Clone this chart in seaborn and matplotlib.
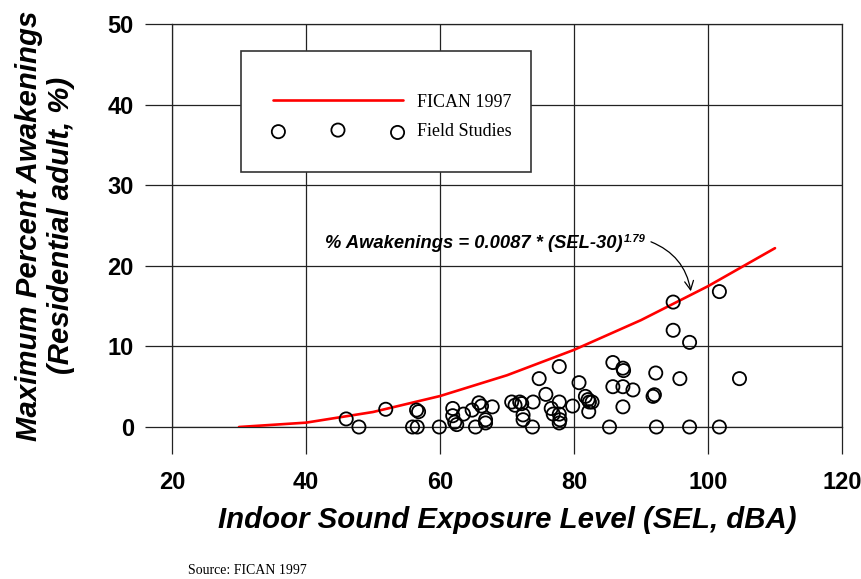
import pandas as pd
import numpy as np
import matplotlib
matplotlib.use('agg')
import matplotlib.pyplot as plt
import seaborn as sns
from matplotlib.patches import Rectangle
from matplotlib.transforms import IdentityTransform

# FICAN 1997 curve, every 10 dB
sel_curve = [30, 40, 50, 60, 70, 80, 90, 100, 110]
awk_curve = [0.0, 0.54, 1.86, 3.84, 6.42, 9.57, 13.26, 17.47, 22.19]

# field study points (SEL dBA, % awakenings)
field_sel = [46.0, 47.9, 51.9, 56.5, 56.8, 55.9, 56.6, 59.9, 61.9, 61.9,
             62.2, 62.5, 63.5, 64.8, 65.8, 66.2, 67.8, 65.3, 66.8, 66.8,
             70.7, 71.2, 71.9, 72.2, 72.4, 72.4, 73.8, 73.9, 74.8, 75.8,
             76.6, 76.9, 77.8, 77.9, 77.8, 77.8, 77.8, 79.8, 80.75, 81.7,
             82.1, 82.3, 82.7, 82.2, 85.3, 85.8, 85.8, 87.3, 87.4, 87.3,
             87.3, 88.8, 91.8, 92.0, 92.2, 92.3, 94.8, 94.8, 95.8, 97.25,
             97.25, 101.7, 101.7, 104.7]
field_awk = [1.0, 0.0, 2.2, 2.1, 1.9, 0.0, 0.0, 0.0, 2.3, 1.4,
             0.6, 0.3, 1.6, 2.1, 3.0, 2.6, 2.5, 0.0, 0.9, 0.5,
             3.1, 2.7, 3.1, 2.9, 1.5, 0.9, 0.0, 3.1, 6.0, 4.05,
             2.3, 1.6, 1.6, 0.9, 0.5, 3.1, 7.5, 2.6, 5.5, 3.8,
             3.4, 3.1, 3.1, 1.9, 0.0, 8.0, 5.0, 7.3, 7.0, 5.0,
             2.5, 4.6, 3.8, 4.0, 6.7, 0.0, 15.5, 12.0, 6.0, 10.5,
             0.0, 16.8, 0.0, 6.0]

xticks = [20, 40, 60, 80, 100, 120]
yticks = [0, 10, 20, 30, 40, 50]

curve_df = pd.DataFrame({'SEL': sel_curve, 'Awakenings': awk_curve})
field_df = pd.DataFrame({'SEL': field_sel, 'Awakenings': field_awk})

sns.set_style('white')
plt.rcParams['font.family'] = ['Liberation Sans', 'DejaVu Sans']
plt.rcParams['text.color'] = 'black'
plt.rcParams['axes.labelcolor'] = 'black'
plt.rcParams['xtick.color'] = 'black'
plt.rcParams['ytick.color'] = 'black'

fig = plt.figure(figsize=(8.61, 5.79), dpi=100)
ax = fig.add_axes([172/861, 152/579, 670/861, 403/579])

sns.lineplot(data=curve_df, x='SEL', y='Awakenings', color='#ff0000', linewidth=1.9,
             label='FICAN 1997', ax=ax, zorder=4)
sns.scatterplot(data=field_df, x='SEL', y='Awakenings', marker='o', s=90,
                facecolors='none', edgecolor='black', linewidth=1.3,
                label='Field Studies', ax=ax, clip_on=False, zorder=5)

ax.set_xlim(20, 120)
ax.set_ylim(0, 50)
ax.set_xticks(xticks)
ax.set_yticks(yticks)
ax.grid(True, color='#222222', linewidth=0.9)
for s in ax.spines.values():
    s.set_visible(True)
    s.set_color('#222222')
    s.set_linewidth(0.9)
ax.tick_params(direction='out', length=19.5, width=0.9, color='#222222', labelsize=17,
               bottom=True, left=True, labelcolor='black')
ax.tick_params(axis='x', pad=12)
ax.tick_params(axis='y', pad=8)
for lab in ax.get_xticklabels() + ax.get_yticklabels():
    lab.set_fontweight('bold')

ax.set_xlabel('Indoor Sound Exposure Level (SEL, dBA)', fontsize=21.2, fontweight='bold',
              fontstyle='italic', va='center')
ax.xaxis.set_label_coords(0.5, -0.231)
ax.set_ylabel('Maximum Percent Awakenings\n(Residential adult, %)', fontsize=21.2,
              fontweight='bold', fontstyle='italic', va='center', linespacing=1.18)
ax.yaxis.set_label_coords(-0.19, 0.5)

# legend box
ax.add_patch(Rectangle((0.103, 0.633), 0.433, 0.300, transform=ax.transAxes,
                       facecolor='white', edgecolor='#333333', linewidth=1.2, zorder=6))
leg = ax.legend(loc='center left', bbox_to_anchor=(0.1507, 0.769), frameon=False,
                borderpad=0, borderaxespad=0, handlelength=7.2, handletextpad=0.75,
                labelspacing=0.7, scatterpoints=3, prop={'family': 'Liberation Serif', 'size': 13})
leg.set_zorder(7)

# equation annotation
eq = ax.text(42.8, 22.2, '% Awakenings = 0.0087 * (SEL-30)', fontsize=13.2, fontweight='bold',
             fontstyle='italic', va='baseline', ha='left', zorder=8)
ax.annotate('', xy=(97.5, 16.5), xytext=(91.1, 23.1),
            arrowprops=dict(arrowstyle='->', color='black', lw=0.9,
                            connectionstyle='arc3,rad=-0.3', mutation_scale=16), zorder=8)

fig.canvas.draw()
bb = eq.get_window_extent()
fig.text(bb.x1 + 1, bb.y0 + 10, '1.79', transform=IdentityTransform(), fontsize=8,
         fontweight='bold', fontstyle='italic', va='baseline', ha='left')

fig.text(188/861, 0.008, 'Source: FICAN 1997', family='Liberation Serif', fontsize=10,
         va='baseline', ha='left')

fig.savefig('out.png', dpi=100)
